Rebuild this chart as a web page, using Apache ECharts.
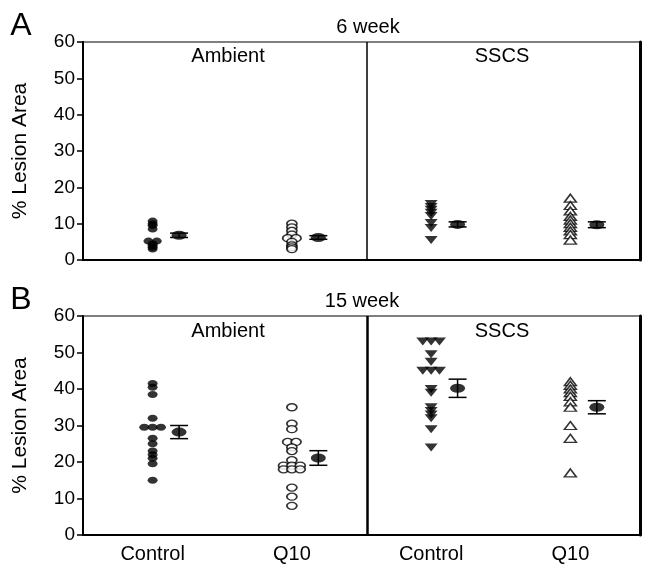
<!DOCTYPE html>
<html>
<head>
<meta charset="utf-8">
<script src="https://cdn.jsdelivr.net/npm/echarts@6/dist/echarts.min.js"></script>
<style>
  html, body { margin: 0; padding: 0; background: #fff; }
  #chart { width: 650px; height: 570px; }
</style>
</head>
<body>
<div id="chart"></div>
<script>
  'use strict'
  var groups = ['Control', 'Q10', 'Control', 'Q10'];

  // 6 week (panel A)
  var wk6CtrlAmb = [10.7, 10, 9.5, 8.5, 5.2, 5.2, 4.5, 4, 3.5, 3];
  var wk6Q10Amb = [10, 9, 8, 7, 6, 6, 5, 4, 3.5, 3];
  var wk6CtrlSscs = [15.4, 14.6, 13.8, 13, 12.1, 10.2, 8.8, 5.5];
  var wk6Q10Sscs = [17, 15, 13.5, 12, 11, 10, 9, 8, 7, 5.5];
  var wk6Mean = [6.8, 6.2, 9.8, 9.7];
  var wk6Sem = [0.6, 0.5, 0.7, 0.8];

  // 15 week (panel B)
  var wk15CtrlAmb = [41.5, 40.5, 38.5, 32, 29.5, 29.5, 29.5, 26.5, 25, 23, 22, 21, 19.5, 15];
  var wk15Q10Amb = [35, 30.5, 29, 25.5, 25.5, 24, 23, 20.5, 19, 19, 19, 18, 18, 18, 13, 10.5, 8];
  var wk15CtrlSscs = [53, 53, 53, 49.5, 47.5, 45, 45, 45, 40, 39, 35, 34, 33, 32, 29, 24];
  var wk15Q10Sscs = [42, 41, 40, 39, 38, 36.5, 35, 30, 26.5, 17];
  var wk15Mean = [28.2, 21.1, 40.2, 35];
  var wk15Sem = [1.8, 2.0, 2.5, 1.8];

  var FONT = 'Liberation Sans, Arial, sans-serif';
  var GRIDS = [{ top: 42, height: 218 }, { top: 316, height: 219 }];

  // spread equal values sideways so they do not sit on top of each other
  function dodge(values, g) {
    var seen = {};
    values.forEach(function (v) { seen[v] = (seen[v] || 0) + 1; });
    var used = {};
    return values.map(function (v) {
      var n = seen[v];
      var i = used[v] || 0;
      used[v] = i + 1;
      return [g + 0.5 + (i - (n - 1) / 2) * 0.06, v];
    });
  }

  function meanPoints(means, sems) {
    return means.map(function (m, g) { return [g + 0.69, m, sems[g]]; });
  }

  function renderErr(params, api) {
    var x = api.value(0), m = api.value(1), s = api.value(2);
    var top = api.coord([x, m + s]);
    var bot = api.coord([x, m - s]);
    var hw = 9;
    var st = { stroke: '#000', lineWidth: 1.5 };
    return {
      type: 'group',
      children: [
        { type: 'line', shape: { x1: top[0], y1: top[1], x2: bot[0], y2: bot[1] }, style: st },
        { type: 'line', shape: { x1: top[0] - hw, y1: top[1], x2: top[0] + hw, y2: top[1] }, style: st },
        { type: 'line', shape: { x1: bot[0] - hw, y1: bot[1], x2: bot[0] + hw, y2: bot[1] }, style: st }
      ]
    };
  }

  var filled = { color: '#000' };
  var open = { color: '#fff', borderColor: '#000', borderWidth: 1.5 };

  function panelSeries(p, ctrlAmb, q10Amb, ctrlSscs, q10Sscs, means, sems) {
    var xi = p * 2 + 1;
    return [
      {
        type: 'scatter', xAxisIndex: xi, yAxisIndex: p * 2, symbol: 'circle', symbolSize: [10, 7],
        itemStyle: filled, data: dodge(ctrlAmb, 0), z: 3,
        markLine: {
          silent: true, symbol: 'none', label: { show: false },
          lineStyle: { color: '#000', width: p === 0 ? 1.5 : 2.5, type: 'solid' },
          data: [{ xAxis: 2.04 }]
        }
      },
      {
        type: 'scatter', xAxisIndex: xi, yAxisIndex: p * 2, symbol: 'circle', symbolSize: [10, 7],
        itemStyle: open, data: dodge(q10Amb, 1), z: 3
      },
      {
        type: 'scatter', xAxisIndex: xi, yAxisIndex: p * 2, symbol: 'triangle', symbolRotate: 180,
        symbolSize: [13, 8], itemStyle: filled, data: dodge(ctrlSscs, 2), z: 3
      },
      {
        type: 'scatter', xAxisIndex: xi, yAxisIndex: p * 2, symbol: 'triangle',
        symbolSize: [12, 8], itemStyle: open, data: dodge(q10Sscs, 3), z: 3
      },
      {
        type: 'custom', xAxisIndex: xi, yAxisIndex: p * 2, renderItem: renderErr,
        dimensions: ['x', 'y', 'sem'], encode: { x: 0, y: 1 },
        data: meanPoints(means, sems), z: 2
      },
      {
        type: 'scatter', xAxisIndex: xi, yAxisIndex: p * 2, symbol: 'circle', symbolSize: [15, 9],
        itemStyle: filled, data: meanPoints(means, sems), z: 4
      }
    ];
  }

  var xAxes = [], yAxes = [];
  GRIDS.forEach(function (g, p) {
    xAxes.push({
      type: 'category', gridIndex: p, data: groups, boundaryGap: true,
      axisLine: { lineStyle: { color: '#000', width: 2 } },
      axisTick: { alignWithLabel: true, length: 5, lineStyle: { color: '#000', width: 1.5 } },
      axisLabel: { show: p === 1, color: '#000', fontSize: 20, fontFamily: FONT, margin: 9 },
      splitLine: { show: false }
    });
    xAxes.push({ type: 'value', gridIndex: p, min: 0, max: 4, show: false, splitLine: { show: false } });
    yAxes.push({
      type: 'value', gridIndex: p, min: 0, max: 60, interval: 10,
      name: '% Lesion Area', nameLocation: 'middle', nameGap: 52, nameRotate: 90,
      nameTextStyle: { color: '#000', fontSize: 21, fontFamily: FONT },
      axisLine: { show: true, lineStyle: { color: '#000', width: 2 } },
      axisTick: { show: true, length: 6, lineStyle: { color: '#000', width: 1.5 } },
      axisLabel: { color: '#000', fontSize: 19, fontFamily: FONT, margin: 8 },
      splitLine: { show: false }
    });
    yAxes.push({
      type: 'value', gridIndex: p, position: 'right', min: 0, max: 60,
      axisLine: { show: true, lineStyle: { color: '#000', width: 3 } },
      axisTick: { show: false }, axisLabel: { show: false }, splitLine: { show: false }
    });
  });

  function txt(s, x, y, size) {
    return {
      type: 'text', x: x, y: y,
      style: { text: s, fill: '#000', font: size + 'px ' + FONT, align: 'center', verticalAlign: 'middle' }
    };
  }

  var chart = echarts.init(document.getElementById('chart'));
  var option = {
    backgroundColor: '#fff',
    animation: false,
    grid: GRIDS.map(function (g) {
      return {
        left: 83, width: 557, top: g.top, height: g.height,
        show: true, borderColor: '#555', borderWidth: 1.5, backgroundColor: 'transparent'
      };
    }),
    xAxis: xAxes,
    yAxis: yAxes,
    graphic: [
      txt('A', 21, 26, 32),
      txt('B', 21, 300, 32),
      txt('6 week', 368, 27, 20),
      txt('15 week', 362, 301, 20),
      txt('Ambient', 228, 56, 20),
      txt('SSCS', 502, 56, 20),
      txt('Ambient', 228, 331, 20),
      txt('SSCS', 502, 331, 20)
    ],
    series: panelSeries(0, wk6CtrlAmb, wk6Q10Amb, wk6CtrlSscs, wk6Q10Sscs, wk6Mean, wk6Sem)
      .concat(panelSeries(1, wk15CtrlAmb, wk15Q10Amb, wk15CtrlSscs, wk15Q10Sscs, wk15Mean, wk15Sem))
  };

  chart.setOption(option);
</script>
</body>
</html>
